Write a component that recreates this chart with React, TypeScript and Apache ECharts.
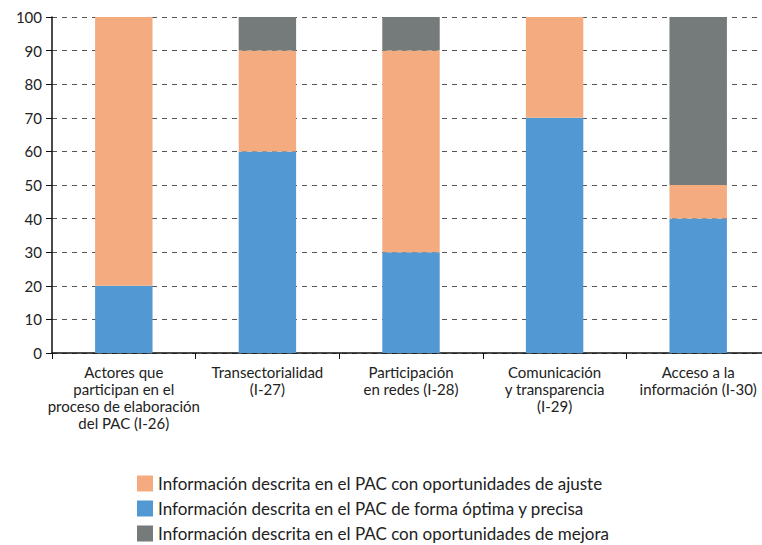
import React, { useEffect, useRef } from "react";
import * as echarts from "echarts";

const categories = [
  "Actores que\nparticipan en el\nproceso de elaboración\ndel PAC (I-26)",
  "Transectorialidad\n(I-27)",
  "Participación\nen redes (I-28)",
  "Comunicación\ny transparencia\n(I-29)",
  "Acceso a la\ninformación (I-30)",
];
const seriesNames = [
  "Información descrita en el PAC con oportunidades de ajuste",
  "Información descrita en el PAC de forma óptima y precisa",
  "Información descrita en el PAC con oportunidades de mejora",
];
const optimaValues = [20, 60, 30, 70, 40];
const ajusteValues = [80, 30, 60, 30, 10];
const mejoraValues = [0, 10, 10, 0, 50];

const FONT = "Lato, 'Open Sans', sans-serif";

export default function App() {
  const ref = useRef<HTMLDivElement>(null);
  useEffect(() => {
    if (!ref.current) return;
    const chart = echarts.init(ref.current, null, { renderer: "svg" });
    chart.setOption({
      animation: false,
      textStyle: { fontFamily: FONT },
      grid: { left: 52, top: 17, width: 718, height: 336, containLabel: false },
      legend: {
        orient: "vertical",
        left: 132,
        top: 470,
        height: 90,
        itemWidth: 16,
        itemHeight: 16,
        itemGap: 8,
        data: seriesNames,
        textStyle: { fontSize: 17, color: "#222", fontFamily: FONT },
        icon: "rect",
      },
      xAxis: {
        type: "category",
        data: categories,
        axisLine: { lineStyle: { color: "#111", width: 1.5 } },
        axisTick: { show: true, length: 6, lineStyle: { color: "#111" } },
        axisLabel: {
          interval: 0,
          fontSize: 15,
          color: "#222",
          lineHeight: 17,
          margin: 10,
          fontFamily: FONT,
        },
      },
      yAxis: {
        type: "value",
        min: 0,
        max: 100,
        interval: 10,
        axisLine: { show: true, lineStyle: { color: "#111", width: 1.5 } },
        axisTick: { show: true, length: 6, lineStyle: { color: "#111" } },
        axisLabel: { fontSize: 15, color: "#222", margin: 10, fontFamily: FONT },
        splitLine: { lineStyle: { color: "#555", type: [5, 5], width: 1 } },
      },
      series: [
        {
          name: seriesNames[1],
          type: "bar",
          stack: "s",
          data: optimaValues,
          barWidth: "40%",
          itemStyle: { color: "#5299D3" },
        },
        {
          name: seriesNames[0],
          type: "bar",
          stack: "s",
          data: ajusteValues,
          barWidth: "40%",
          itemStyle: { color: "#F5AB80" },
        },
        {
          name: seriesNames[2],
          type: "bar",
          stack: "s",
          data: mejoraValues,
          barWidth: "40%",
          itemStyle: { color: "#757A7A" },
        },
      ],
    });
    return () => chart.dispose();
  }, []);
  return (
    <div style={{ width: 762, height: 545, position: "absolute", left: 0, top: 0, overflow: "hidden" }}>
      <div ref={ref} style={{ width: 780, height: 545 }} />
    </div>
  );
}
